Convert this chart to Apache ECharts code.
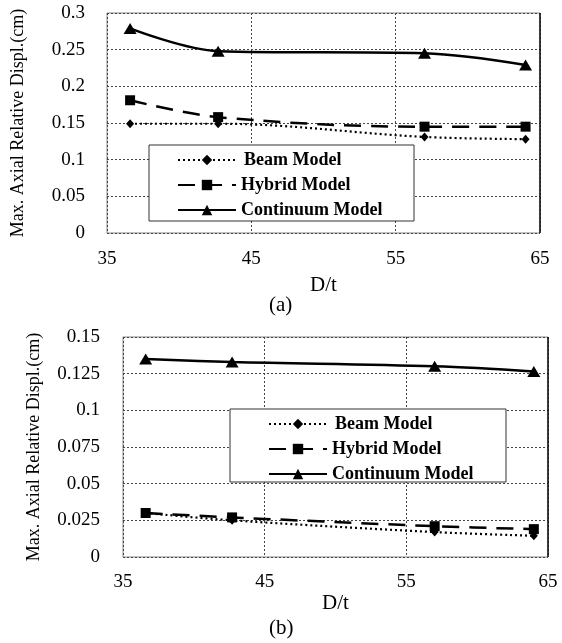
<!DOCTYPE html>
<html>
<head>
<meta charset="utf-8">
<script src="https://cdn.jsdelivr.net/npm/echarts@6/dist/echarts.min.js"></script>
<style>html,body{margin:0;padding:0;background:#fff}#c{width:562px;height:643px}</style>
</head>
<body>
<div id="c"></div>
<script>
const dt = [36.6, 42.7, 57.0, 64.0];
const beamA = [0.149, 0.149, 0.131, 0.128];
const hybridA = [0.181, 0.158, 0.145, 0.145];
const contA = [0.279, 0.248, 0.245, 0.229];
const beamB = [0.030, 0.025, 0.017, 0.0145];
const hybridB = [0.030, 0.027, 0.021, 0.019];
const contB = [0.135, 0.133, 0.130, 0.1265];
const xTicks = [35, 45, 55, 65];
const yTicksA = [0, 0.05, 0.1, 0.15, 0.2, 0.25, 0.3];
const yTicksB = [0, 0.025, 0.05, 0.075, 0.1, 0.125, 0.15];
const names = ['Beam Model', 'Hybrid Model', 'Continuum Model'];
const yTitle = 'Max. Axial Relative Displ.(cm)';
const xTitle = 'D/t';

const FONT = 'Liberation Serif';
const zip = (xs, ys) => xs.map((x, i) => [x, ys[i]]);

function xAxis(gi) {
  return {
    type: 'value', gridIndex: gi,
    min: xTicks[0], max: xTicks[xTicks.length - 1], interval: xTicks[1] - xTicks[0],
    name: xTitle, nameLocation: 'middle', nameGap: gi === 0 ? 42 : 29,
    nameTextStyle: { fontFamily: FONT, fontSize: 21, color: '#000' },
    axisLine: { show: false }, axisTick: { show: false },
    axisLabel: { fontFamily: FONT, fontSize: 19, color: '#000', margin: gi === 0 ? 17 : 16 },
    splitLine: { show: true, lineStyle: { type: [2, 2], color: '#444', width: 1 } }
  };
}
function yAxis(gi, ticks) {
  return {
    type: 'value', gridIndex: gi,
    min: ticks[0], max: ticks[ticks.length - 1], interval: ticks[1] - ticks[0],
    name: yTitle, nameLocation: 'middle', nameRotate: 90, nameGap: gi === 0 ? 80 : 80,
    nameTextStyle: { fontFamily: FONT, fontSize: 18, color: '#000' },
    axisLine: { show: false }, axisTick: { show: false },
    axisLabel: { fontFamily: FONT, fontSize: 19, color: '#000', margin: gi === 0 ? 22 : 23 },
    splitLine: { show: true, lineStyle: { type: [2, 2], color: '#444', width: 1 } }
  };
}
const styles = [
  { symbol: 'diamond', symbolSize: [8, 9], lineStyle: { type: [2, 3], width: 2.2, color: '#000' } },
  { symbol: 'rect', symbolSize: 10, lineStyle: { type: [17, 10], width: 2.5, color: '#000' } },
  { symbol: 'triangle', symbolSize: [13, 11], lineStyle: { type: 'solid', width: 2.5, color: '#000' } }
];
function series(gi, arrs) {
  return arrs.map((a, i) => Object.assign({
    type: 'line', name: names[i] + (gi === 1 ? ' ' : ''),
    xAxisIndex: gi, yAxisIndex: gi,
    data: zip(dt, a), smooth: 0.35,
    itemStyle: { color: '#000' }, showSymbol: true, z: 3 + i
  }, styles[i]));
}
function legend(gi, left, top) {
  return {
    data: names.map((n, i) => ({ name: n + (gi === 1 ? ' ' : ''),
      textStyle: i === 0 ? { padding: [0, 0, 0, 3] } : {} })),
    orient: 'vertical', left: left, top: top,
    itemWidth: 58, itemHeight: 13, itemGap: 7,
    textStyle: { fontFamily: FONT, fontSize: 18, fontWeight: 'bold', color: '#000' },
    selectedMode: false, z: 20
  };
}
const chart = echarts.init(document.getElementById('c'), null, { renderer: 'canvas' });
chart.setOption({
  animation: false,
  backgroundColor: '#fff',
  grid: [
    { left: 107, top: 13, width: 433, height: 220, show: true, borderColor: '#888', borderWidth: 1, backgroundColor: 'transparent' },
    { left: 123, top: 337, width: 425, height: 220, show: true, borderColor: '#888', borderWidth: 1, backgroundColor: 'transparent' }
  ],
  xAxis: [xAxis(0), xAxis(1)],
  yAxis: [yAxis(0, yTicksA), yAxis(1, yTicksB)],
  legend: [legend(0, 172, 146), legend(1, 263, 410)],
  graphic: [
    { type: 'rect', shape: { x: 149, y: 145, width: 265, height: 76 }, style: { fill: '#fff', stroke: '#333', lineWidth: 1 }, z: 10 },
    { type: 'rect', shape: { x: 230, y: 409, width: 276, height: 73 }, style: { fill: '#fff', stroke: '#333', lineWidth: 1 }, z: 10 },
    { type: 'line', shape: { x1: 540, y1: 13, x2: 540, y2: 233 }, style: { stroke: '#111', lineWidth: 1.5 }, z: 10 },
    { type: 'line', shape: { x1: 548, y1: 337, x2: 548, y2: 557 }, style: { stroke: '#111', lineWidth: 1.5 }, z: 10 },
    { type: 'rect', shape: { x: 255, y: 291, width: 60, height: 6 }, style: { fill: '#fff' }, z: 30 },
    { type: 'rect', shape: { x: 255, y: 607, width: 60, height: 6 }, style: { fill: '#fff' }, z: 30 },
    { type: 'text', left: 269, top: 295, style: { text: '(a)', font: '21px ' + FONT, fill: '#000' }, z: 31 },
    { type: 'text', left: 269, top: 618, style: { text: '(b)', font: '21px ' + FONT, fill: '#000' }, z: 31 }
  ],
  series: [].concat(series(0, [beamA, hybridA, contA]), series(1, [beamB, hybridB, contB]))
});
</script>
</body>
</html>
